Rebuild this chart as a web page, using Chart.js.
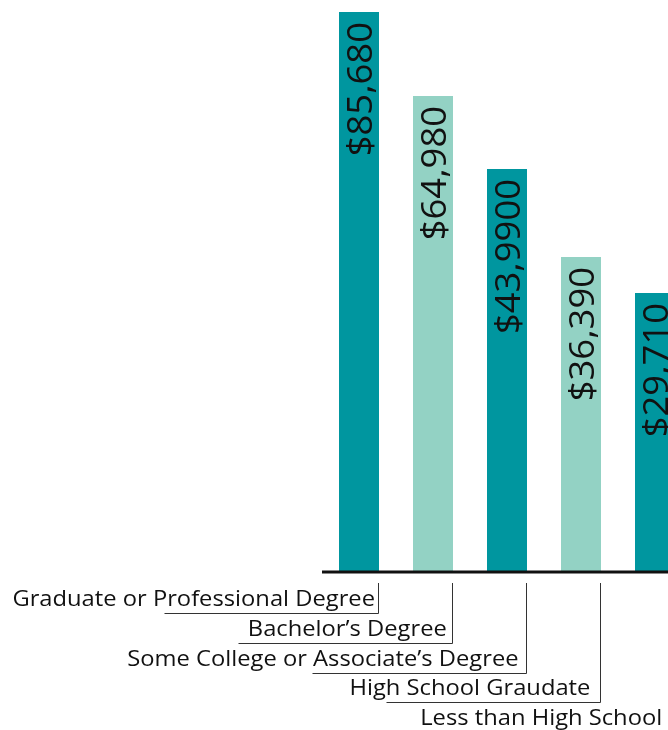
<!DOCTYPE html>
<html>
<head>
<meta charset="utf-8">
<script src="https://cdn.jsdelivr.net/npm/chart.js@4/dist/chart.umd.min.js"></script>
<style>
  html, body { margin: 0; padding: 0; background: #ffffff; overflow: hidden; }
  #wrap { width: 668px; height: 730px; overflow: hidden; position: relative; }
  canvas { display: block; }
</style>
</head>
<body>
<div id="wrap"><canvas id="c" width="700" height="730"></canvas></div>
<script>
// Categories (education level)
const categories = [
  "Graduate or Professional Degree",
  "Bachelor\u2019s Degree",
  "Some College or Associate\u2019s Degree",
  "High School Graudate",
  "Less than High School"
];
// Printed value labels, as written on the bars
const valueLabels = ["$85,680", "$64,980", "$43,9900", "$36,390", "$29,710"];
// Bar heights as drawn in the picture (in dollars, calibrated on the tallest bar)
const barHeights = [85680, 72830, 61660, 48200, 42690];
// Alternating bar colours
const barColors = ["#00969F", "#93D2C4", "#00969F", "#93D2C4", "#00969F"];

const FONT = "'Open Sans', 'DejaVu Sans', sans-serif";
const VALUE_STRETCH = 1.04;   // wide geometric face in the original
const LABEL_STRETCH = 1.13;

const decorPlugin = {
  id: 'decor',
  afterDatasetsDraw(chart) {
    const ctx = chart.ctx;
    const ys = chart.scales.y;
    const meta = chart.getDatasetMeta(0);
    const y0 = ys.getPixelForValue(0);

    // value labels, rotated
    ctx.save();
    ctx.fillStyle = '#111111';
    ctx.font = "400 35px " + FONT;
    ctx.textAlign = 'right';
    ctx.textBaseline = 'alphabetic';
    meta.data.forEach((el, i) => {
      ctx.save();
      ctx.translate(el.x + 13, el.y + 10);
      ctx.rotate(-Math.PI / 2);
      ctx.scale(VALUE_STRETCH, 1);
      ctx.fillText(valueLabels[i], 0, 0);
      ctx.restore();
    });
    ctx.restore();

    // axis line
    ctx.save();
    ctx.strokeStyle = '#111111';
    ctx.lineWidth = 3;
    ctx.beginPath();
    ctx.moveTo(chart.chartArea.left, y0);
    ctx.lineTo(chart.chartArea.right + 10, y0);
    ctx.stroke();
    ctx.restore();

    // category labels with connector lines
    ctx.save();
    ctx.strokeStyle = '#333333';
    ctx.lineWidth = 1;
    meta.data.forEach((el, i) => {
      const right = el.x + el.width / 2;
      const base = y0 + 34 + i * 29.8;
      ctx.save();
      ctx.font = "400 21px " + FONT;
      ctx.fillStyle = '#111111';
      ctx.textAlign = 'right';
      ctx.textBaseline = 'alphabetic';
      ctx.translate(right - 4 - 2.2 * i, base);
      ctx.scale(LABEL_STRETCH, 1);
      ctx.fillText(categories[i], 0, 0);
      ctx.restore();
      if (i < categories.length - 1) {
        const tx = Math.round(right - 1) + 0.5;
        const uy = Math.round(base + 7) + 0.5;
        ctx.beginPath();
        ctx.moveTo(tx, y0 + 11);
        ctx.lineTo(tx, uy);
        ctx.lineTo(tx - 214, uy);
        ctx.stroke();
      }
    });
    ctx.restore();
  }
};

new Chart(document.getElementById('c'), {
  type: 'bar',
  data: {
    labels: categories,
    datasets: [{
      data: barHeights,
      backgroundColor: barColors,
      borderWidth: 0,
      categoryPercentage: 1.0,
      barPercentage: 40 / 74
    }]
  },
  options: {
    responsive: false,
    animation: false,
    devicePixelRatio: 1,
    layout: { padding: { left: 322, right: 8, top: 12, bottom: 158 } },
    plugins: { legend: { display: false }, tooltip: { enabled: false } },
    scales: {
      x: { display: false },
      y: { display: false, min: 0, max: 85680 }
    }
  },
  plugins: [decorPlugin]
});
</script>
</body>
</html>
